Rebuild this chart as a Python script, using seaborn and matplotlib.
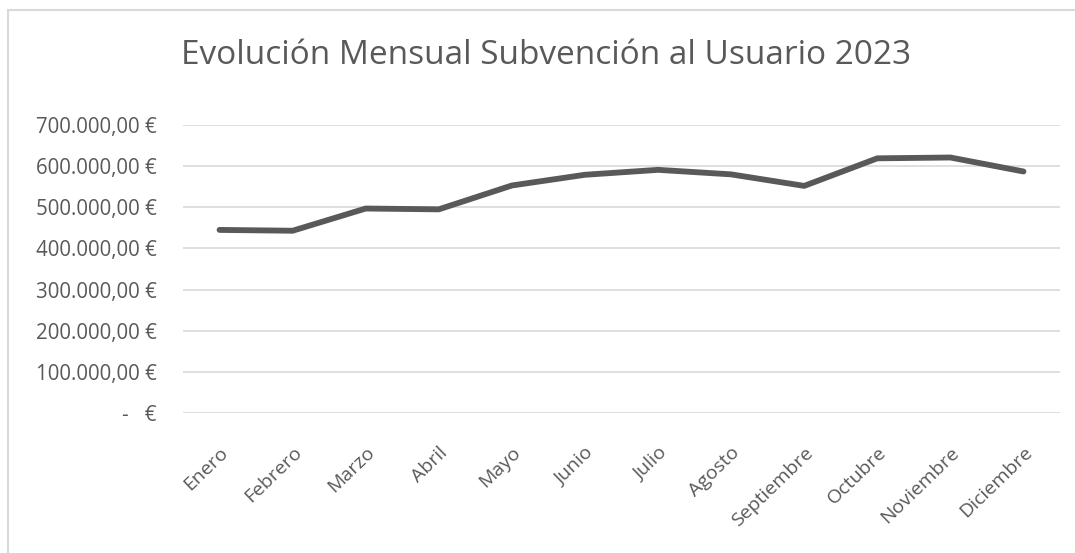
import matplotlib
matplotlib.use("Agg")
import matplotlib.pyplot as plt
import matplotlib.ticker as mticker
from matplotlib.patches import Rectangle
import seaborn as sns
import pandas as pd

meses = ["Enero", "Febrero", "Marzo", "Abril", "Mayo", "Junio", "Julio",
         "Agosto", "Septiembre", "Octubre", "Noviembre", "Diciembre"]
subvencion = [445000, 443000, 497000, 495000, 553000, 579000, 591000,
              580000, 552000, 619000, 621000, 587000]
titulo = "Evolución Mensual Subvención al Usuario 2023"

df = pd.DataFrame({"Mes": meses, "Subvencion": subvencion})

sns.set_theme(style="white")
plt.rcParams["font.family"] = ["Open Sans", "DejaVu Sans"]

TXT = "#595959"
fig = plt.figure(figsize=(10.75, 5.53), dpi=100)
ax = fig.add_axes([183 / 1075, 1 - 413 / 553, (1060 - 183) / 1075, (413 - 125) / 553])

x = list(range(len(meses)))
df["x"] = x
sns.lineplot(data=df, x="x", y="Subvencion", ax=ax, color="#595959",
             linewidth=4.2, solid_capstyle="round", solid_joinstyle="round")

ax.set_xlim(-0.5, len(meses) - 0.5)
ax.set_ylim(0, 700000)
ax.set_xticks(x)
ax.set_xticklabels(meses, rotation=44, ha="right", rotation_mode="anchor",
                   fontsize=14, color=TXT)
ax.yaxis.set_major_locator(mticker.MultipleLocator(100000))

def fmt(v, pos):
    if v == 0:
        return "-   €"
    s = f"{int(v):,}".replace(",", ".")
    return f"{s},00 €"

ax.yaxis.set_major_formatter(mticker.FuncFormatter(fmt))
for lab in ax.get_yticklabels():
    lab.set_fontsize(14.8)
    lab.set_color(TXT)
ax.tick_params(axis="y", length=0, pad=19)
ax.tick_params(axis="x", length=0, pad=22)
ax.grid(axis="y", color="#d9d9d9", linewidth=1.2)
ax.grid(axis="x", visible=False)
for s in ax.spines.values():
    s.set_visible(False)
ax.set_xlabel("")
ax.set_ylabel("")

fig.text(546 / 1075, 1 - 55 / 553, titulo, ha="center", va="center",
         fontsize=24, color=TXT, fontweight="normal")

fig.patches.append(Rectangle((8 / 1075, -0.1), 1.2, 1 - 10 / 553 + 0.1,
                             transform=fig.transFigure, fill=False,
                             edgecolor="#d9d9d9", linewidth=1.5))

fig.savefig("out.png", dpi=100)
